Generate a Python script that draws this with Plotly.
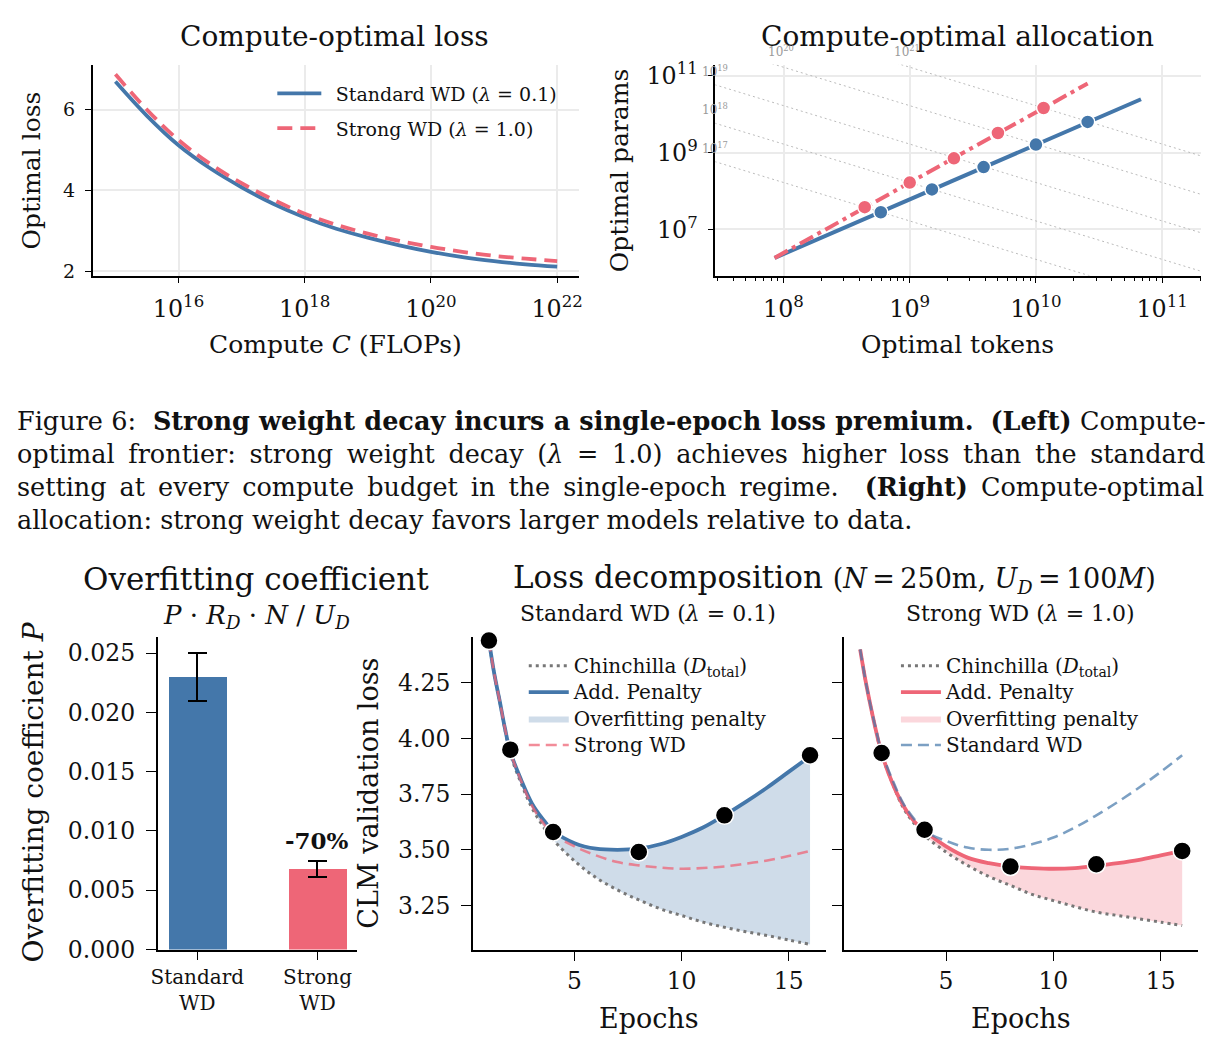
import math
import plotly.graph_objects as go

# ---------------- data ----------------
# Top-left: compute-optimal loss frontier
compute_flops = [1e15, 3.16e15, 1e16, 3.16e16, 1e17, 3.16e17, 1e18, 3.16e18,
                 1e19, 3.16e19, 1e20, 3.16e20, 1e21, 3.16e21, 1e22]
loss_standard = [6.70, 5.85, 5.12, 4.55, 4.08, 3.67, 3.33, 3.05, 2.83, 2.64,
                 2.48, 2.35, 2.25, 2.17, 2.11]
loss_strong = [6.88, 6.00, 5.25, 4.66, 4.18, 3.77, 3.42, 3.15, 2.93, 2.75,
               2.60, 2.48, 2.38, 2.31, 2.25]

# Top-right: compute-optimal allocation
tokens_std_line = [8.5e7, 6.8e10]
params_std_line = [1.82e6, 2.45e10]
tokens_std_pts = [5.9e8, 1.5e9, 3.85e9, 1.0e10, 2.57e10]
params_std_pts = [2.8e7, 1.1e8, 4.2e8, 1.62e9, 6.3e9]
tokens_strong_line = [8.5e7, 2.57e10]
params_strong_line = [1.82e6, 6.3e10]
tokens_strong_pts = [4.4e8, 1.0e9, 2.24e9, 5.0e9, 1.15e10]
params_strong_pts = [3.8e7, 1.66e8, 7.1e8, 3.24e9, 1.45e10]
isoflop_budgets = [1e17, 1e18, 1e19, 1e20, 1e21]
isoflop_exponents = [17, 18, 19, 20, 21]

# Bottom-left: overfitting coefficient
bar_labels = ["Standard<br>WD", "Strong<br>WD"]
bar_values = [0.0230, 0.0068]
bar_errors = [0.0020, 0.0007]
bar_note = "-70%"

# Bottom: loss decomposition
epochs = [1, 1.25, 1.5, 1.75, 2, 2.5, 3, 3.5, 4, 5, 6, 7, 8, 9, 10, 11, 12, 13, 14, 15, 16]
std_chinchilla = [4.44, 4.29, 4.17, 4.04, 3.93, 3.80, 3.69, 3.61, 3.545, 3.45, 3.375, 3.32,
                  3.275, 3.235, 3.205, 3.175, 3.152, 3.132, 3.115, 3.095, 3.075]
std_penalty = [4.44, 4.29, 4.17, 4.045, 3.94, 3.815, 3.71, 3.64, 3.585, 3.53, 3.505, 3.50,
               3.505, 3.525, 3.558, 3.60, 3.655, 3.715, 3.78, 3.85, 3.92]
std_strong_ref = [4.44, 4.29, 4.17, 4.045, 3.94, 3.81, 3.70, 3.625, 3.57, 3.515, 3.475, 3.445,
                  3.43, 3.42, 3.415, 3.418, 3.425, 3.438, 3.452, 3.472, 3.495]
std_obs_epochs = [1, 2, 4, 8, 12, 16]
std_obs_loss = [4.44, 3.95, 3.58, 3.49, 3.655, 3.925]

strong_chinchilla = [4.40, 4.26, 4.14, 4.03, 3.93, 3.80, 3.69, 3.62, 3.565, 3.49, 3.43, 3.38,
                     3.34, 3.30, 3.272, 3.245, 3.22, 3.205, 3.19, 3.175, 3.16]
strong_penalty = [4.40, 4.26, 4.14, 4.03, 3.935, 3.80, 3.70, 3.63, 3.585, 3.515, 3.465, 3.44,
                  3.425, 3.418, 3.415, 3.418, 3.428, 3.44, 3.455, 3.475, 3.495]
strong_std_ref = [4.40, 4.26, 4.14, 4.035, 3.94, 3.815, 3.71, 3.64, 3.585, 3.54, 3.51, 3.50,
                  3.505, 3.525, 3.555, 3.60, 3.655, 3.715, 3.78, 3.85, 3.925]
strong_obs_epochs = [2, 4, 8, 12, 16]
strong_obs_loss = [3.935, 3.59, 3.425, 3.435, 3.495]

# ---------------- style ----------------
W, H = 1225, 1052
BLUE = "#4477AA"
RED = "#EE6677"
GRAY = "#777777"
FONT = "DejaVu Serif"
GRID = "#ebebeb"
INK = "#111111"

# mapping from target-picture pixels to paper fractions (calibrated against the rendered page)
SX, OX = 0.9932, 6.1
SY, OY = 0.982, 6.4


def fx(px):
    return ((px - OX) / SX) / W


def fy(py):
    return 1 - ((py - OY) / SY) / H


fig = go.Figure()

# ---- top-left ----
fig.add_trace(go.Scatter(x=compute_flops, y=loss_standard, mode="lines",
                         line=dict(color=BLUE, width=3.8, shape="spline"),
                         name="\u2002Standard WD (<i>λ</i> = 0.1)", legendgroup="tl1",
                         xaxis="x", yaxis="y", legend="legend"))
fig.add_trace(go.Scatter(x=compute_flops, y=loss_strong, mode="lines",
                         line=dict(color=RED, width=3.8, dash="15px,8px", shape="spline"),
                         name="\u2002Strong WD (<i>λ</i> = 1.0)", legendgroup="tl2",
                         xaxis="x", yaxis="y", legend="legend"))

# ---- top-right ----
for c in isoflop_budgets:
    d_ends = [1e7, 1e12]
    fig.add_trace(go.Scatter(x=d_ends, y=[c / (6 * d) for d in d_ends], mode="lines",
                             line=dict(color="#bbbbbb", width=1, dash="2px,3px"),
                             showlegend=False, xaxis="x2", yaxis="y2", hoverinfo="skip"))
fig.add_trace(go.Scatter(x=tokens_std_line, y=params_std_line, mode="lines", line=dict(color=BLUE, width=4),
                         showlegend=False, xaxis="x2", yaxis="y2"))
fig.add_trace(go.Scatter(x=tokens_std_pts, y=params_std_pts, mode="markers",
                         marker=dict(color=BLUE, size=14, line=dict(color="white", width=1.5)),
                         showlegend=False, xaxis="x2", yaxis="y2"))
fig.add_trace(go.Scatter(x=tokens_strong_line, y=params_strong_line, mode="lines",
                         line=dict(color=RED, width=4, dash="15px,5px,4px,5px"),
                         showlegend=False, xaxis="x2", yaxis="y2"))
fig.add_trace(go.Scatter(x=tokens_strong_pts, y=params_strong_pts, mode="markers",
                         marker=dict(color=RED, size=14, line=dict(color="white", width=1.5)),
                         showlegend=False, xaxis="x2", yaxis="y2"))

# ---- bottom-left bars ----
fig.add_trace(go.Bar(x=bar_labels, y=bar_values, width=0.485,
                     marker=dict(color=[BLUE, RED], line=dict(width=0)),
                     error_y=dict(type="data", array=bar_errors, color="black", thickness=2, width=9.5),
                     showlegend=False, xaxis="x3", yaxis="y3"))


def big(name):
    return '<span style="font-size:20px">%s</span>' % name


# ---- bottom panels ----
def decomposition(xa, ya, chin, pen, ref, obs_x, obs_y, main_color, fill_color, ref_color, ref_name, leg):
    fig.add_trace(go.Scatter(x=epochs, y=chin, mode="lines",
                             line=dict(color=GRAY, width=3, dash="3px,4px", shape="spline"),
                             name=big("Chinchilla (<i>D</i><sub>total</sub>)"), legendrank=1,
                             xaxis=xa, yaxis=ya, legend=leg))
    fig.add_trace(go.Scatter(x=epochs, y=pen, mode="lines", line=dict(width=0, shape="spline"), fill="tonexty",
                             fillcolor=fill_color, name=big("Overfitting penalty"), legendrank=3,
                             xaxis=xa, yaxis=ya, legend=leg))
    fig.add_trace(go.Scatter(x=epochs, y=pen, mode="lines", line=dict(color=main_color, width=3.8, shape="spline"),
                             name=big("Add. Penalty"), legendrank=2,
                             xaxis=xa, yaxis=ya, legend=leg))
    fig.add_trace(go.Scatter(x=epochs, y=ref, mode="lines",
                             line=dict(color=ref_color, width=2.6, dash="11px,6px", shape="spline"),
                             name=big(ref_name), legendrank=4,
                             xaxis=xa, yaxis=ya, legend=leg))
    fig.add_trace(go.Scatter(x=obs_x, y=obs_y, mode="markers",
                             marker=dict(color="black", size=18, line=dict(color="white", width=1.5)),
                             showlegend=False, cliponaxis=False, xaxis=xa, yaxis=ya))


decomposition("x4", "y4", std_chinchilla, std_penalty, std_strong_ref, std_obs_epochs, std_obs_loss,
              BLUE, "rgba(68,119,170,0.26)", "rgba(238,102,119,0.75)", "Strong WD", "legend2")
decomposition("x5", "y5", strong_chinchilla, strong_penalty, strong_std_ref, strong_obs_epochs, strong_obs_loss,
              RED, "rgba(238,102,119,0.26)", "rgba(68,119,170,0.7)", "Standard WD", "legend3")

axis_common = dict(showline=True, linecolor="black", linewidth=1.5, ticks="outside", tickcolor="black",
                   zeroline=False, mirror=False, tickfont=dict(family=FONT, size=19, color=INK))
bottom_tick = dict(family=FONT, size=23.5, color=INK)

layout = dict(
    width=W, height=H, margin=dict(l=0, r=0, t=0, b=0),
    paper_bgcolor="white", plot_bgcolor="white",
    font=dict(family=FONT, color=INK),
    xaxis=dict(axis_common, domain=[fx(92), fx(579)], anchor="y", type="log", range=[14.64, 22.34], dtick=2,
               exponentformat="power", showgrid=True, gridcolor=GRID, gridwidth=1.5, ticklen=6,
               ticklabelstandoff=6),
    yaxis=dict(axis_common, domain=[fy(277), fy(66)], anchor="x", range=[1.89, 7.12], tickvals=[2, 4, 6],
               showgrid=True, gridcolor=GRID, gridwidth=1.5, ticklen=6, ticklabelstandoff=6),
    xaxis2=dict(axis_common, domain=[fx(716), fx(1203)], anchor="y2", type="log", range=[7.46, 11.31], dtick=1,
                exponentformat="power", showgrid=True, gridcolor=GRID, gridwidth=1.5, ticklen=6,
                ticklabelstandoff=6,
                minor=dict(dtick="D1", ticks="outside", ticklen=4, tickcolor="black", showgrid=False)),
    yaxis2=dict(axis_common, domain=[fy(277), fy(66)], anchor="x2", type="log", range=[5.8, 11.29], tick0=7, dtick=2,
                exponentformat="power", showgrid=True, gridcolor=GRID, gridwidth=1.5, ticklen=6, ticklabelstandoff=6),
    xaxis3=dict(axis_common, domain=[fx(157), fx(357)], anchor="y3", type="category", range=[-0.33, 1.33],
                ticklen=9, tickfont=dict(family=FONT, size=20, color=INK)),
    yaxis3=dict(axis_common, domain=[fy(951), fy(638)], anchor="x3", range=[0, 0.0264],
                tickvals=[0, 0.005, 0.01, 0.015, 0.02, 0.025], tickformat=".3f", ticklen=10,
                tickfont=bottom_tick, showgrid=False, ticklabelstandoff=6),
    xaxis4=dict(axis_common, domain=[fx(473), fx(827)], anchor="y4", range=[0.25, 16.75], tickvals=[5, 10, 15],
                ticklen=10, tickfont=bottom_tick, showgrid=False),
    yaxis4=dict(axis_common, domain=[fy(951), fy(638)], anchor="x4", range=[3.052, 4.458],
                tickvals=[3.25, 3.5, 3.75, 4.0, 4.25], tickformat=".2f", ticklen=10,
                tickfont=bottom_tick, showgrid=False, ticklabelstandoff=6),
    xaxis5=dict(axis_common, domain=[fx(845), fx(1200)], anchor="y5", range=[0.25, 16.75], tickvals=[5, 10, 15],
                ticklen=10, tickfont=bottom_tick, showgrid=False),
    yaxis5=dict(axis_common, domain=[fy(951), fy(638)], anchor="x5", matches="y4",
                tickvals=[3.25, 3.5, 3.75, 4.0, 4.25], showticklabels=False, ticklen=10, showgrid=False),
    legend=dict(x=fx(272), y=fy(76), xanchor="left", yanchor="top", bgcolor="rgba(0,0,0,0)",
                font=dict(family=FONT, size=19, color=INK), tracegroupgap=7, itemwidth=44),
    legend2=dict(x=fx(524), y=fy(649), xanchor="left", yanchor="top", bgcolor="rgba(0,0,0,0)",
                 font=dict(family=FONT, size=18, color=INK), traceorder="normal", itemwidth=40),
    legend3=dict(x=fx(897), y=fy(649), xanchor="left", yanchor="top", bgcolor="rgba(0,0,0,0)",
                 font=dict(family=FONT, size=18, color=INK), traceorder="normal", itemwidth=40),
    bargap=0,
)
fig.update_layout(layout)

ann = []


def text(x, y, t, size, angle=0, xanchor="center"):
    ann.append(dict(x=fx(x), y=fy(y), xref="paper", yref="paper", text=t, showarrow=False, textangle=angle,
                    xanchor=xanchor, yanchor="middle", font=dict(family=FONT, size=size, color=INK)))


# top titles & axis labels
text(334, 38, "Compute-optimal loss", 28)
text(959, 38, "Compute-optimal allocation", 28)
text(31, 172, "Optimal loss", 25, angle=-90)
text(335, 346, "Compute <i>C</i> (FLOPs)", 25)
text(620, 172, "Optimal params", 25, angle=-90)
text(959, 346, "Optimal tokens", 25)

# caption (justified through word spacing)
cap = [
    ("Figure 6:  <b>Strong weight decay incurs a single-epoch loss premium.</b>  <b>(Left)</b> Compute-", 0.3),
    ("optimal frontier: strong weight decay (<i>λ</i> = 1.0) achieves higher loss than the standard", 5.5),
    ("setting at every compute budget in the single-epoch regime.  <b>(Right)</b> Compute-optimal", 4.9),
    ("allocation: strong weight decay favors larger models relative to data.", 0),
]
for i, (line, ws) in enumerate(cap):
    ann.append(dict(x=fx(14), y=fy(422 + 33 * i), xref="paper", yref="paper",
                    text='<span style="word-spacing:%.1fpx">%s</span>' % (ws, line), showarrow=False,
                    xanchor="left", yanchor="middle", font=dict(family=FONT, size=25.5, color=INK)))

# bottom titles & axis labels
text(256, 580, "Overfitting coefficient", 31)
text(256, 618, "<i>P</i> · <i>R</i><sub><i>D</i></sub> · <i>N</i> / <i>U</i><sub><i>D</i></sub>", 26)
text(835, 580, "Loss decomposition <span style=\"font-size:27px\">(<i>N</i>\u2009=\u2009250m, "
               "<i>U</i><sub><i>D</i></sub>\u2009=\u2009100<i>M</i>)</span>", 31)
text(649, 615, "Standard WD (<i>λ</i> = 0.1)", 22)
text(1022, 615, "Strong WD (<i>λ</i> = 1.0)", 22)
text(33, 793, "Overfitting coefficient <i>P</i>", 28, angle=-90)
text(368, 795, "CLM validation loss", 27, angle=-90)
text(650, 1020, "Epochs", 27)
text(1022, 1020, "Epochs", 27)

# -70% label above the strong bar
ann.append(dict(x=bar_labels[1], y=bar_values[1] + bar_errors[1], xref="x3", yref="y3",
                text="<b>" + bar_note + "</b>", showarrow=False, yanchor="bottom", yshift=5,
                font=dict(family=FONT, size=23, color=INK)))

# iso-FLOP labels at the start of each iso-FLOP line
x_left, y_top = 7.46, 11.29
for c, e in zip(isoflop_budgets, isoflop_exponents):
    n_left = math.log10(c / 6) - x_left
    if n_left <= y_top:
        xa, ya, xs = x_left, n_left, 0
    else:
        xa, ya, xs = math.log10(c / 6) - y_top, y_top, 6
    ann.append(dict(x=xa, y=ya, xref="x2", yref="y2", text="10<sup>%d</sup>" % e, showarrow=False,
                    xanchor="center", yanchor="bottom", yshift=4, xshift=xs,
                    font=dict(family=FONT, size=12, color="#9a9a9a")))

fig.update_layout(annotations=ann)
fig.write_html("out.html")
